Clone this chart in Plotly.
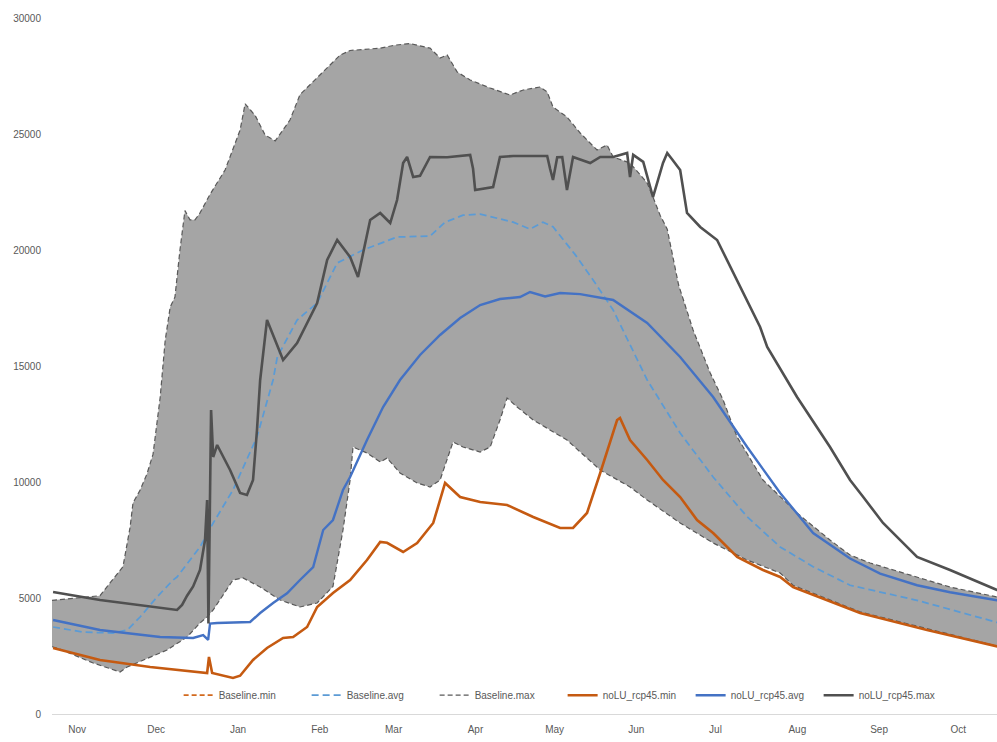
import pandas as pd
import plotly.graph_objects as go

# Season origin: days are counted from 1 November
SEASON_START = pd.Timestamp("2000-11-01")

# ---- Baseline envelope (max / min) and mean ----
base_max_day = [-9.5, 8.7, 12.5, 17.4, 20.1, 21.2, 23.9, 26.5, 28.8, 31.5, 33.4, 35.3, 37.1, 39.0,
                40.9, 42.8, 44.7, 46.6, 50.4, 56.1, 61.8, 63.7, 67.5, 71.3, 75.1, 80.7, 84.5, 92.1,
                99.7, 103.5, 114.9, 120.5, 126.2, 133.8, 137.6, 140.3, 144.1, 149.0, 156.6, 164.1,
                169.1, 175.5, 178.2, 180.4, 185.7, 190.7, 197.1, 200.9, 203.2, 209.6, 214.6, 216.1,
                218.3, 221.0, 223.7, 228.0, 233.5, 240.0, 244.9, 250.2, 260.0, 272.9, 285.4, 293.0,
                300.6, 305.5, 318.4, 330.9, 348.7, 355.0]
base_max_val = [4900, 5100, 5650, 6350, 8050, 9100, 9650, 10350, 11200, 13650, 16100, 17540, 17970, 20000,
                21700, 21300, 21300, 21600, 22400, 23450, 25170, 26300, 25800, 24950, 24700, 25600, 26700, 27540,
                28400, 28600, 28700, 28830, 28900, 28700, 28276, 28405, 27672, 27328, 26983, 26681,
                26897, 27026, 26810, 26164, 25733, 25043, 24310, 24526, 24009, 23750, 23100, 22888,
                22284, 21500, 20900, 18500, 16552, 14698, 13534, 11940, 10086, 8664, 7500, 6853,
                6509, 6336, 5905, 5474, 5043, 4900]

base_min_day = [-9.5, -7.6, 6.1, 16.3, 19.0, 25.0, 34.1, 41.7, 46.6, 49.3, 51.6, 59.1, 62.9, 69.4, 77.0,
                84.5, 91.0, 97.0, 100.8, 103.5, 104.6, 109.9, 114.9, 117.5, 122.4, 128.9, 133.8, 137.6,
                142.5, 146.3, 152.8, 156.6, 160.3, 163.0, 166.8, 172.9, 185.7, 198.3, 209.6, 216.1,
                228.6, 241.1, 254.0, 266.5, 271.4, 296.8, 318.4, 348.7, 355.0]
base_min_val = [2900, 2845, 2198, 1810, 2026, 2328, 2759, 3319, 3922, 4181, 4483, 5776, 5862, 5474, 4914,
                4612, 4784, 5500, 7931, 10086, 11509, 11250, 10862, 11034, 10388, 9957, 9784, 10086,
                11724, 11509, 11293, 11509, 12672, 13621, 13233, 12672, 11810, 10517, 9784, 9224,
                8233, 7371, 6638, 6078, 5550, 4400, 3780, 2900, 2750]

base_avg_day = [-9.1, 2.3, 13.6, 19.0, 23.9, 30.3, 36.4, 37.9, 46.6, 51.6, 59.1, 68.2, 74.3, 75.9, 83.4,
                91.0, 98.6, 108.4, 121.3, 133.8, 139.5, 146.3, 152.8, 165.3, 171.7, 176.6, 180.4, 183.1,
                188.8, 195.6, 203.2, 216.1, 228.6, 241.1, 254.0, 266.5, 279.0, 293.0, 318.4, 348.7, 355.0]
base_avg_val = [3750, 3530, 3491, 3620, 4181, 5043, 5776, 5905, 7198, 8233, 9655, 11940, 14397, 15388, 16983,
                17716, 19440, 20000, 20560, 20600, 21200, 21500, 21550, 21200, 20900, 21200, 21000, 20600,
                19800, 18707, 17414, 14397, 12112, 10216, 8500, 7200, 6350, 5550, 4900, 3950, 3800]

# ---- noLU_rcp45 ----
rcp_min_day = [-9.1, 8.7, 27.7, 44.0, 49.3, 50.0, 51.2, 59.1, 61.8, 66.7, 72.0, 78.1, 81.9, 87.2, 91.0,
               97.0, 103.5, 109.9, 114.9, 117.5, 123.6, 128.9, 135.0, 139.5, 145.2, 152.8, 163.0, 172.9,
               183.1, 188.0, 193.3, 198.3, 204.7, 205.8, 209.6, 216.1, 222.1, 228.6, 235.0, 241.1,
               250.2, 260.0, 266.5, 271.4, 296.8, 322.2, 347.2, 355.0]
rcp_min_val = [2845, 2328, 2026, 1810, 1767, 2457, 1767, 1552, 1650, 2328, 2845, 3276, 3320, 3750, 4612,
               5216, 5776, 6638, 7414, 7380, 6983, 7371, 8233, 9957, 9353, 9138, 9009, 8491,
               8017, 8017, 8664, 10388, 12672, 12760, 11810, 10948, 10086, 9353, 8362, 7802,
               6767, 6207, 5905, 5474, 4353, 3621, 2974, 2750]

rcp_avg_day = [-9.1, 8.7, 31.5, 44.0, 47.8, 49.7, 50.4, 53.1, 65.6, 69.4, 74.3, 79.6, 84.5, 89.5, 93.3,
               97.0, 100.8, 103.5, 109.9, 116.0, 122.4, 130.0, 137.6, 145.2, 152.8, 160.3, 167.9, 171.7,
               177.4, 183.1, 190.7, 203.2, 216.1, 228.6, 241.1, 254.0, 266.5, 279.0, 293.0, 304.4,
               318.4, 330.9, 348.7, 355.0]
rcp_avg_val = [4052, 3621, 3319, 3276, 3400, 3200, 3900, 3922, 3966, 4353, 4784, 5200, 5776, 6336, 7931,
               8362, 9655, 10216, 11810, 13233, 14397, 15474, 16336, 17069, 17629, 17888, 17974, 18190,
               18000, 18147, 18100, 17845, 16853, 15388, 13664, 11509, 9526, 7802, 6700, 6050,
               5550, 5250, 4900, 4800]

rcp_max_day = [-9.1, 8.7, 37.9, 39.8, 41.7, 44.0, 46.6, 48.5, 49.3, 49.8, 50.8, 51.6, 53.1, 58.0, 61.8,
               64.4, 66.7, 68.2, 69.4, 72.0, 78.1, 83.4, 91.0, 94.8, 98.6, 103.5, 106.5, 111.1, 114.9,
               118.7, 121.3, 123.6, 125.1, 127.4, 130.0, 133.8, 140.3, 149.0, 150.1, 150.9, 157.7,
               160.3, 165.3, 178.2, 179.3, 180.4, 182.0, 183.9, 185.7, 188.0, 194.5, 198.3, 203.2,
               208.5, 209.6, 210.8, 214.6, 218.3, 222.1, 223.7, 225.6, 228.6, 231.2, 236.2, 242.6,
               248.7, 254.0, 258.9, 261.6, 272.9, 285.4, 293.0, 298.0, 305.5, 318.4, 330.9, 348.7, 355.0]
rcp_max_val = [5259, 4914, 4483, 4700, 5100, 5500, 6207, 7500, 9224, 3900, 13103, 11078, 11595, 10517, 9526,
               9440, 10086, 12241, 14397, 16983, 15259, 15991, 17716, 19569, 20431, 19698, 18836, 21293, 21595,
               21164, 22155, 23750, 24009, 23147, 23200, 24009, 24000, 24095, 23500, 22586, 22716,
               24009, 24050, 24050, 23500, 23017, 24000, 24009, 22586, 24009, 23750, 24009, 24009,
               24181, 23147, 24100, 23800, 22284, 23750, 24181, 23900, 23448, 21595, 20991, 20431,
               19009, 17845, 16681, 15819, 13664, 11509, 10086, 9353, 8233, 6767, 6207, 5345, 5100]

Y_TICKS = [0, 5000, 10000, 15000, 20000, 25000, 30000]


def to_dates(days):
    return SEASON_START + pd.to_timedelta(pd.Series(days, dtype=float), unit="D")


BAND_FILL = "#a5a5a5"
EDGE = "#595959"
ORANGE = "#c55a11"
ORANGE_LIGHT = "#d2691e"
BLUE = "#4472c4"
BLUE_LIGHT = "#5b9bd5"
DARK = "#505050"
TEXT = "#595959"

fig = go.Figure()

# grey envelope between the baseline minimum and maximum
band_x = pd.concat([to_dates(base_max_day), to_dates(base_min_day)[::-1]])
band_y = list(base_max_val) + list(base_min_val)[::-1]
fig.add_trace(go.Scatter(x=band_x, y=band_y, fill="toself", fillcolor=BAND_FILL,
                         line=dict(width=0), mode="lines", showlegend=False, hoverinfo="skip"))

# lower envelope edge
fig.add_trace(go.Scatter(x=to_dates(base_min_day), y=base_min_val, mode="lines",
                         line=dict(color=EDGE, width=1.2, dash="5px,3px"), showlegend=False))

# legend entries in display order
fig.add_trace(go.Scatter(x=[None], y=[None], mode="lines", name="Baseline.min",
                         line=dict(color=ORANGE_LIGHT, width=1.75, dash="5px,3px")))
fig.add_trace(go.Scatter(x=to_dates(base_avg_day), y=base_avg_val, mode="lines", name="Baseline.avg",
                         line=dict(color=BLUE_LIGHT, width=1.75, dash="7px,4px")))
fig.add_trace(go.Scatter(x=to_dates(base_max_day), y=base_max_val, mode="lines", name="Baseline.max",
                         line=dict(color=EDGE, width=1.2, dash="5px,3px")))
fig.add_trace(go.Scatter(x=to_dates(rcp_min_day), y=rcp_min_val, mode="lines", name="noLU_rcp45.min",
                         line=dict(color=ORANGE, width=2.6)))
fig.add_trace(go.Scatter(x=to_dates(rcp_avg_day), y=rcp_avg_val, mode="lines", name="noLU_rcp45.avg",
                         line=dict(color=BLUE, width=2.4)))
fig.add_trace(go.Scatter(x=to_dates(rcp_max_day), y=rcp_max_val, mode="lines", name="noLU_rcp45.max",
                         line=dict(color=DARK, width=2.6)))

x_start = SEASON_START + pd.Timedelta(days=-9.5)
x_end = SEASON_START + pd.Timedelta(days=348.7)

fig.update_layout(
    width=997, height=742,
    margin=dict(l=52, r=0, t=18, b=28),
    paper_bgcolor="white", plot_bgcolor="white",
    font=dict(family="Liberation Sans, Arial, sans-serif", size=10, color=TEXT),
    legend=dict(orientation="h", x=0.134, y=0.027, xanchor="left", yanchor="middle",
                bgcolor="rgba(0,0,0,0)", font=dict(size=10, color=TEXT),
                itemwidth=30, entrywidth=83, traceorder="normal"),
    xaxis=dict(range=[x_start, x_end], type="date", tick0="2000-11-01", dtick="M1",
               tickformat="%b", showgrid=False, zeroline=False, showline=True,
               linecolor="#d9d9d9", linewidth=1, ticks="", tickfont=dict(size=10, color=TEXT),
               ticklabelstandoff=6),
    yaxis=dict(range=[0, 30000], tickvals=Y_TICKS, tickformat="d", showgrid=False, zeroline=False,
               showline=False, ticks="", tickfont=dict(size=10, color=TEXT),
               ticklabelstandoff=10),
)

fig.write_html("out.html")
